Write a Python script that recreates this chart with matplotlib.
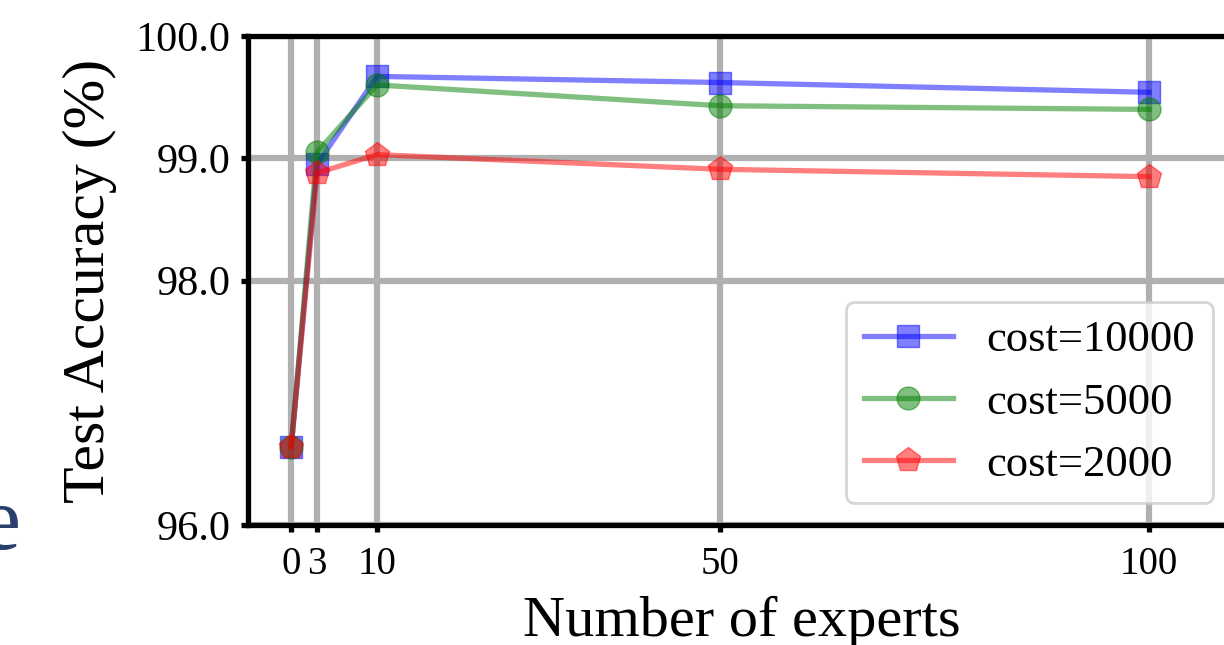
import matplotlib
matplotlib.use("Agg")
import matplotlib.pyplot as plt

plt.rcParams['font.family'] = ['Liberation Serif', 'DejaVu Serif']

# data
experts = [0, 3, 10, 50, 100]
acc_10000 = [96.64, 98.95, 99.67, 99.62, 99.54]
acc_5000 = [96.64, 99.05, 99.60, 99.43, 99.40]
acc_2000 = [96.64, 98.88, 99.03, 98.91, 98.85]

x_ticks = [0, 3, 10, 50, 100]
x_tick_labels = ['0', '3', '10', '50', '100']
y_ticks = [96, 98, 99, 100]
y_tick_labels = ['96.0', '98.0', '99.0', '100.0']

fig = plt.figure(figsize=(12.24, 6.45), dpi=100)
ax = fig.add_axes([0.2029, 0.186, 0.8059, 0.7581])

ax.plot(experts, acc_10000, '-s', color='b', alpha=0.5, lw=3.8, ms=16.5, label='cost=10000')
ax.plot(experts, acc_5000, '-o', color='g', alpha=0.5, lw=3.8, ms=16.5, label='cost=5000')
ax.plot(experts, acc_2000, '-p', color='r', alpha=0.5, lw=3.8, ms=18.5, label='cost=2000')

ax.set_xlim(-5, 110)
ax.set_ylim(96, 100)
ax.set_xticks(x_ticks)
ax.set_xticklabels(x_tick_labels)
ax.set_yticks(y_ticks)
ax.set_yticklabels(y_tick_labels)

ax.grid(True, color='#b0b0b0', lw=4.5)
ax.set_axisbelow(True)
for s in ax.spines.values():
    s.set_linewidth(3.8)

ax.tick_params(axis='x', labelsize=28, length=5, width=3.8, pad=10)
ax.tick_params(axis='y', labelsize=30.5, length=5, width=3.8, pad=8)

ax.set_xlabel('Number of experts', fontsize=42)
ax.set_ylabel('Test Accuracy (%)', fontsize=43)
ax.xaxis.set_label_coords(0.5, -0.145)
ax.yaxis.set_label_coords(-0.133, 0.5)

leg = ax.legend(loc='lower right', fontsize=32, handlelength=2.0, handletextpad=0.75)
leg.get_frame().set_linewidth(2)

# cropped fragment of neighbouring text at the left edge
fig.text(20 / 1224, 0.149, 'e', fontsize=65, color='#2b3f6e', ha='right', va='baseline')

fig.savefig('out.png', dpi=100)
